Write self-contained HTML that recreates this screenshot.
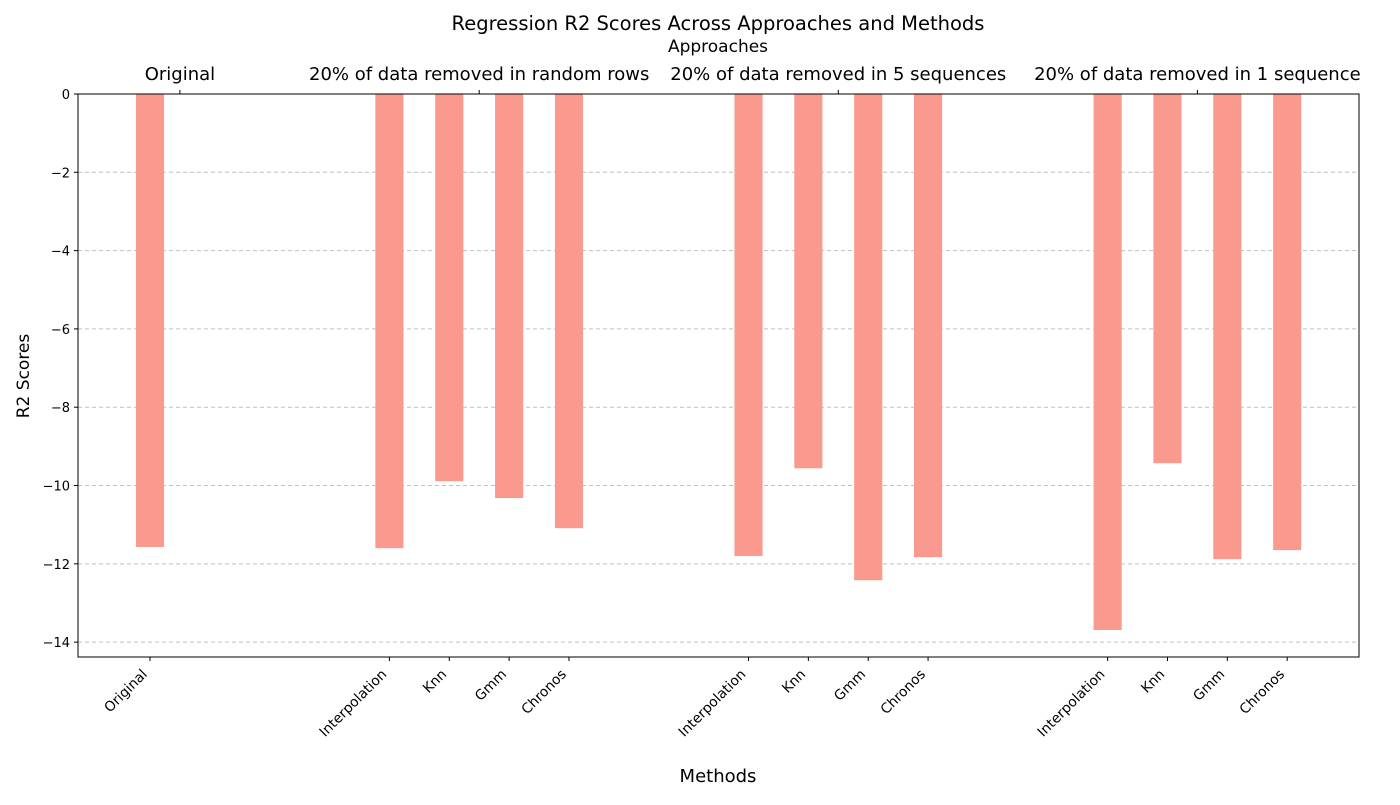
<!DOCTYPE html>
<html><head><meta charset="utf-8"><style>
body{margin:0;background:#fff;}
svg text{font-family:"DejaVu Sans","Liberation Sans",sans-serif;fill:#000;}
</style></head><body>
<svg id="chart" width="1400" height="800" xmlns="http://www.w3.org/2000/svg">
<text x="718" y="30" font-size="19.5" text-anchor="middle">Regression R2 Scores Across Approaches and Methods</text>
<text x="718" y="52" font-size="17" text-anchor="middle">Approaches</text>
<text x="718" y="782" font-size="18" text-anchor="middle">Methods</text>
<text transform="translate(29,376) rotate(-90)" font-size="17" text-anchor="middle">R2 Scores</text>
<g id="grid"></g><g id="bars"></g><g id="axes"></g>
</svg>
<script>
const methods=["Original","Interpolation","Knn","Gmm","Chronos","Interpolation","Knn","Gmm","Chronos","Interpolation","Knn","Gmm","Chronos"];
const positions=[0,4,5,6,7,10,11,12,13,16,17,18,19];
const scores=[-11.57,-11.6,-9.89,-10.32,-11.09,-11.8,-9.56,-12.42,-11.83,-13.69,-9.43,-11.88,-11.65];
const approaches=["Original","20% of data removed in random rows","20% of data removed in 5 sequences","20% of data removed in 1 sequence"];
const approachPos=[0.5,5.5,11.5,17.5];
const yTicks=[0,-2,-4,-6,-8,-10,-12,-14];
const L=78,R=1359,T=94,B=657;
const xmin=-1.203,xmax=20.2,ymin=-14.38,ymax=0;
const X=v=>L+(v-xmin)/(xmax-xmin)*(R-L);
const Y=v=>T+(ymax-v)/(ymax-ymin)*(B-T);
const NS="http://www.w3.org/2000/svg";
function mk(tag,attrs,parent){const e=document.createElementNS(NS,tag);for(const k in attrs)e.setAttribute(k,attrs[k]);document.getElementById(parent).appendChild(e);return e;}
const bw=0.47*(X(1)-X(0));
yTicks.forEach(t=>{
  if(t!==0){const g=mk('line',{x1:L,x2:R,y1:Y(t),y2:Y(t),stroke:'#c0c0c0','stroke-dasharray':'4,3'},'grid');
  
  }
  const tk=mk('line',{x1:L-4,x2:L,y1:Y(t),y2:Y(t),stroke:'#000'},'axes');
  
  
  const tx=mk('text',{x:L-8,y:Y(t)+5,'font-size':13,'text-anchor':'end'},'axes');
  tx.textContent=t===0?'0':'\u2212'+Math.abs(t);
  
  
});
scores.forEach((s,i)=>{
  const y0=Y(0),y1=Y(s);
  const r=mk('rect',{x:X(positions[i])-bw/2,y:Math.min(y0,y1),width:bw,height:Math.abs(y1-y0),fill:'#fa9a8e'},'bars');
  
  
  const tk=mk('line',{x1:X(positions[i]),x2:X(positions[i]),y1:B,y2:B+4,stroke:'#000'},'axes');
  
  
  const tx=mk('text',{x:0,y:0,'font-size':13.8,'text-anchor':'end',transform:`translate(${X(positions[i])-2},${B+18}) rotate(-45)`},'axes');
  tx.textContent=methods[i];
  
  
});
approaches.forEach((a,i)=>{
  const tk=mk('line',{x1:X(approachPos[i]),x2:X(approachPos[i]),y1:T-4,y2:T,stroke:'#000'},'axes');
  
  
  const tx=mk('text',{x:X(approachPos[i]),y:T-14,'font-size':18,'text-anchor':'middle'},'axes');
  tx.textContent=a;
  
  
});
const fr=mk('rect',{x:L,y:T,width:R-L,height:B-T,fill:'none',stroke:'#000'},'axes');


</script>
</body></html>
